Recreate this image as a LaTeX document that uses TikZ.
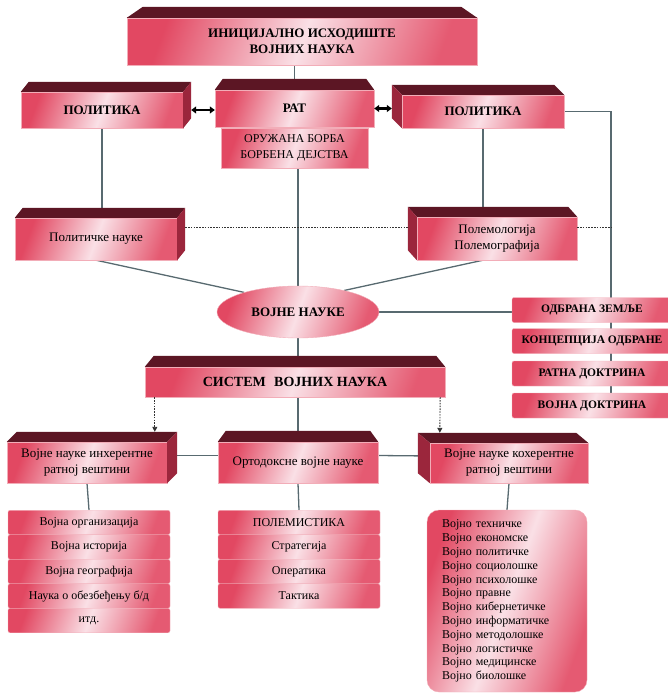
\documentclass[tikz,border=0pt]{standalone}
\usepackage{fontspec}
\setmainfont{Liberation Serif}
\usetikzlibrary{calc,backgrounds,shapes.geometric,arrows.meta}
\definecolor{boxred}{RGB}{226,72,98}
\definecolor{boxpale}{RGB}{250,224,230}
\definecolor{topdark}{RGB}{92,22,36}
\definecolor{sidedark}{RGB}{155,38,60}
\definecolor{linegray}{RGB}{88,106,112}

\begin{document}
\begin{tikzpicture}[x=1pt, y=1pt,
  every node/.style={align=center, inner sep=0pt},
  front/.style={rectangle, draw=boxred!45, line width=0.4pt, left color=boxred, right color=boxred!90, middle color=boxpale, shading angle=70},
  capsfont/.style={font=\fontsize{13}{16}\selectfont\bfseries},
  textfont/.style={font=\fontsize{13}{16}\selectfont},
  listfont/.style={font=\fontsize{12}{14}\selectfont},
  listcaps/.style={font=\fontsize{11.5}{14}\selectfont\bfseries},
  sz/.style 2 args={minimum width=#1pt, minimum height=#2pt},
  row/.style={rounded corners=2pt},
  topface/.style={fill=topdark},
  sideface/.style={fill=sidedark},
  conn/.style={draw=linegray, line width=1.3pt},
  dotline/.style={draw=black!80, line width=0.9pt, dash pattern=on 1.6pt off 1.2pt},
  dotarrow/.style={dotline, -{Triangle[length=5pt,width=5pt]}},
  dblarrow/.style={{Triangle[length=5pt,width=7pt]}-{Triangle[length=5pt,width=7pt]}, line width=2.2pt}]
\useasboundingbox (0,0) rectangle (667,-693);

\node[front, capsfont, sz={350}{47}] (init) at (302,-41.5) {ИНИЦИЈАЛНО ИСХОДИШТЕ\\ВОЈНИХ НАУКА};
\node[front, capsfont, sz={162}{36}] (polL) at (102,-110) {ПОЛИТИКА};
\node[front, capsfont, sz={159}{37}] (rat) at (294.5,-108.5) {РАТ};
\node[front, font=\fontsize{12}{16}\selectfont, sz={147}{40}] (oruz) at (294.5,-148) {ОРУЖАНА БОРБА\\БОРБЕНА ДЕЈСТВА};
\node[front, capsfont, sz={162}{33}] (polR) at (483,-111.5) {ПОЛИТИКА};
\node[front, textfont, sz={162}{42}] (polsci) at (96,-239) {Политичке науке};
\node[front, textfont, sz={160}{43}] (polem) at (497,-238.5) {Полемологија\\Полемографија};
\node[front, ellipse, capsfont, sz={162}{52}] (vn) at (298,-312) {ВОЈНЕ НАУКЕ};

\node[front, listcaps, row, sz={160}{25}] (odbr) at (592,-310) {ОДБРАНА ЗЕМЉЕ};
\node[front, listcaps, row, sz={160}{25}] (konc) at (592,-341) {КОНЦЕПЦИЈА ОДБРАНЕ};
\node[front, listcaps, row, sz={160}{25}] (ratdok) at (592,-373.5) {РАТНА ДОКТРИНА};
\node[front, listcaps, row, sz={160}{25}] (vojdok) at (592,-405.5) {ВОЈНА ДОКТРИНА};
\coordinate (rline) at (611,-418);

\node[front, font=\fontsize{14}{16}\selectfont\bfseries, sz={300}{30}] (sys) at (295,-382) {СИСТЕМ\hspace{0.6em}ВОЈНИХ НАУКА};
\node[front, textfont, sz={160}{41}] (inh) at (87,-462.5) {Војне науке инхерентне\\ратној вештини};
\node[front, textfont, sz={160}{41}] (orto) at (298,-462.5) {Ортодоксне војне науке};
\node[front, textfont, sz={158}{40}] (coh) at (509,-463) {Војне науке кохерентне\\ратној вештини};

\node[front, listfont, row, sz={162}{24.5}] (l1) at (89,-522.5) {Војна организација};
\node[front, listfont, row, sz={162}{24.5}] (l2) at (89,-547) {Војна историја};
\node[front, listfont, row, sz={162}{24.5}] (l3) at (89,-571.5) {Војна географија};
\node[front, listfont, row, sz={162}{24.5}] (l4) at (89,-596) {Наука о обезбеђењу б/д};
\node[front, listfont, row, sz={162}{24.5}] (l5) at (89,-620.5) {итд.};

\node[front, listfont, row, sz={162}{24.5}] (m1) at (299,-522.5) {ПОЛЕМИСТИКА};
\node[front, listfont, row, sz={162}{24.5}] (m2) at (299,-547) {Стратегија};
\node[front, listfont, row, sz={162}{24.5}] (m3) at (299,-571.5) {Оператика};
\node[front, listfont, row, sz={162}{24.5}] (m4) at (299,-596) {Тактика};

\node[front, rounded corners=12pt, sz={160}{182}, text width=130pt, align=left, font=\fontsize{12}{13.8}\selectfont] (vlist) at (507,-601) {Војно техничке\\Војно економске\\Војно политичке\\Војно социолошке\\Војно психолошке\\Војно правне\\Војно кибернетичке\\Војно информатичке\\Војно методолошке\\Војно логистичке\\Војно медицинске\\Војно биолошке};

% top faces of the boxes seen from the front
\foreach \n/\d in {init/16,rat/8,sys/9,orto/8}
  \fill[topface] (\n.north west) -- ([shift={(\d,11)}]\n.north west) -- ([shift={(-\d,11)}]\n.north east) -- (\n.north east) -- cycle;
% boxes seen from the left
\foreach \n/\d in {polL/8,polsci/8,inh/10} {
  \fill[topface] (\n.north west) -- ([shift={(\d,10)}]\n.north west) -- ([shift={(\d,10)}]\n.north east) -- (\n.north east) -- cycle;
  \fill[sideface] (\n.north east) -- ([shift={(\d,10)}]\n.north east) -- ([shift={(\d,10)}]\n.south east) -- (\n.south east) -- cycle;
}
% boxes seen from the right
\foreach \n/\d in {polR/-10,polem/-9,coh/-12} {
  \fill[topface] (\n.north west) -- ([shift={(\d,10)}]\n.north west) -- ([shift={(\d,10)}]\n.north east) -- (\n.north east) -- cycle;
  \fill[sideface] (\n.north west) -- ([shift={(\d,10)}]\n.north west) -- ([shift={(\d,10)}]\n.south west) -- (\n.south west) -- cycle;
}

\begin{scope}[on background layer]
\draw[conn] (rat.north |- init.south) -- (rat.north);
\draw[conn] (vn.north |- oruz.south) -- (vn.north);
\draw[conn] (polL.south) -- (polL.south |- polsci.north);
\draw[conn] (polR.south) -- (polR.south |- polem.north);
\draw[conn] (polR.east) -| (rline);
\draw[conn] (polsci.south) -- (vn.160);
\draw[conn] (polR.south |- polem.south) -- (vn.25);
\draw[conn] (vn.east) -- (vn.east -| odbr.west);
\draw[conn] (vn.south) -- (vn.south |- sys.north);
\draw[conn] (orto.north |- sys.south) -- (orto.north);
\draw[conn] ([yshift=7pt]inh.east) -- ([yshift=7pt]orto.west);
\draw[conn] ([yshift=7pt]orto.east) -- ([yshift=7pt]coh.west);
\draw[conn] (inh.south) -- (l1.north);
\draw[conn] (orto.south) -- (m1.north);
\draw[conn] (coh.south) -- (vlist.north);
\end{scope}

\draw[dblarrow] ([xshift=8pt]polL.east) -- (polL.east -| rat.west);
\draw[dblarrow] (rat.east) -- ($(rat.east -| polR.west)+(-10,0)$);
\draw[dotline] ([shift={(8,12)}]polsci.east) -- ([shift={(-9,11.5)}]polem.west);
\draw[dotline] ([yshift=11.5pt]polem.east) -- ($(polem.east -| rline)+(0,11.5)$);
\draw[dotarrow] ($(sys.south west)+(10,0)$) -- ($(inh.north west)+(148,10)$);
\draw[dotarrow] ($(sys.south east)+(-5,0)$) -- ($(coh.north west)+(10,10)$);
\end{tikzpicture}
\end{document}
